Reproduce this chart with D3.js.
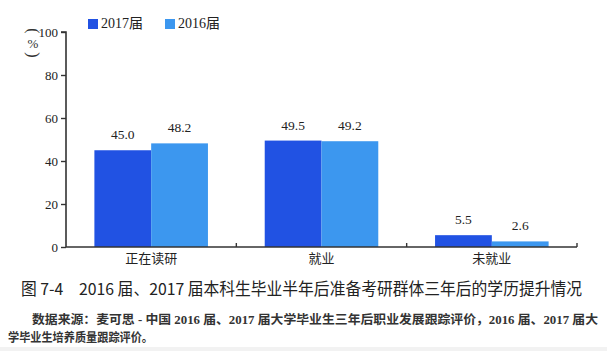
<!DOCTYPE html>
<html lang="zh">
<head>
<meta charset="UTF-8">
<title>图 7-4</title>
<script src="https://d3js.org/d3.v7.min.js"></script>
<style>
  body { margin: 0; background: #fff; }
  svg { display: block; }
</style>
</head>
<body>
<svg width="607" height="351"></svg>
<script>
const categories = ["正在读研", "就业", "未就业"];
const seriesNames = ["2017届", "2016届"];
const values2017 = [45.0, 49.5, 5.5];
const values2016 = [48.2, 49.2, 2.6];
const yTicks = [0, 20, 40, 60, 80, 100];
const colors = ["#2152e3", "#3c97ef"];

const serif = "'Liberation Serif', 'Times New Roman', 'DejaVu Serif', 'Noto Sans CJK SC', serif";
const cjk = "'Noto Sans CJK SC', sans-serif";

const svg = d3.select("svg");
svg.append("rect").attr("width", 607).attr("height", 351).attr("fill", "#fff");

const x = d3.scaleBand().domain(categories).range([66, 577]).paddingInner(0).paddingOuter(0);
const xs = d3.scaleBand().domain(seriesNames).range([0, x.bandwidth()]).paddingInner(0).paddingOuter(0.5);
const y = d3.scaleLinear().domain([0, 100]).range([247, 32]);

const data = categories.map((c, i) => ({
  cat: c,
  vals: [
    { s: seriesNames[0], v: values2017[i] },
    { s: seriesNames[1], v: values2016[i] }
  ]
}));

// bars
const grp = svg.append("g").selectAll("g").data(data).join("g")
  .attr("transform", d => `translate(${x(d.cat)},0)`);
grp.selectAll("rect").data(d => d.vals).join("rect")
  .attr("x", d => xs(d.s))
  .attr("y", d => y(d.v))
  .attr("width", xs.bandwidth())
  .attr("height", d => y(0) - y(d.v))
  .attr("fill", (d, i) => colors[i]);
grp.selectAll("text").data(d => d.vals).join("text")
  .attr("font-family", serif)
  .attr("x", d => xs(d.s) + xs.bandwidth() / 2)
  .attr("y", d => y(d.v) - 11)
  .attr("text-anchor", "middle")
  .attr("font-size", 13.5)
  .attr("fill", "#222")
  .text(d => d.v.toFixed(1));

// y axis
const yAxis = svg.append("g").attr("transform", "translate(66,0)")
  .call(d3.axisLeft(y).tickValues(yTicks).tickSize(5).tickPadding(3));
yAxis.select(".domain").attr("stroke", "#333").attr("stroke-width", 1.6).attr("d", `M-5,${y(100)}H0V${y(0)}`);
yAxis.selectAll(".tick line").attr("stroke", "#333").attr("stroke-width", 1.4);
yAxis.selectAll(".tick text").attr("font-family", serif).attr("font-size", 13).attr("fill", "#222");

// x axis
svg.append("line").attr("x1", 66).attr("x2", 577).attr("y1", y(0)).attr("y2", y(0))
  .attr("stroke", "#333").attr("stroke-width", 1.6);
svg.append("g").selectAll("line").data(x.domain().map(c => x(c) + x.bandwidth()))
  .join("line")
  .attr("x1", d => d).attr("x2", d => d)
  .attr("y1", y(0)).attr("y2", y(0) - 4)
  .attr("stroke", "#333").attr("stroke-width", 1.4);
svg.append("g").selectAll("text").data(categories).join("text")
  .attr("font-family", cjk)
  .attr("x", d => x(d) + x.bandwidth() / 2)
  .attr("y", 263)
  .attr("text-anchor", "middle")
  .attr("font-size", 13)
  .attr("fill", "#222")
  .text(d => d);

// unit label: rotated brackets around %
svg.append("text").attr("font-family", serif).attr("font-size", 16).attr("fill", "#333")
  .attr("text-anchor", "middle").attr("dominant-baseline", "central")
  .attr("transform", "translate(33,31) rotate(90)").text("(");
svg.append("text").attr("font-family", serif).attr("font-size", 13).attr("fill", "#333")
  .attr("text-anchor", "middle").attr("dominant-baseline", "central")
  .attr("x", 33).attr("y", 43).text("%");
svg.append("text").attr("font-family", serif).attr("font-size", 16).attr("fill", "#333")
  .attr("text-anchor", "middle").attr("dominant-baseline", "central")
  .attr("transform", "translate(33,55) rotate(90)").text(")");

// legend
const legend = svg.append("g");
seriesNames.forEach((s, i) => {
  const lx = 88 + i * 77;
  legend.append("rect").attr("x", lx).attr("y", 19).attr("width", 10).attr("height", 10).attr("fill", colors[i]);
  legend.append("text").attr("x", lx + 13).attr("y", 28)
    .attr("font-family", serif)
    .attr("font-size", 14).attr("fill", "#222").text(s);
});

// caption
svg.append("text").attr("font-family", cjk).attr("x", 21).attr("y", 295)
  .attr("font-size", 16.5).attr("fill", "#222")
  .attr("textLength", 561).attr("lengthAdjust", "spacingAndGlyphs")
  .text("图 7-4　2016 届、2017 届本科生毕业半年后准备考研群体三年后的学历提升情况");
svg.append("text").attr("x", 32).attr("y", 324)
  .attr("font-family", serif)
  .attr("font-size", 12.5).attr("font-weight", "bold").attr("fill", "#333")
  .attr("textLength", 566).attr("lengthAdjust", "spacingAndGlyphs")
  .text("数据来源：麦可思 - 中国 2016 届、2017 届大学毕业生三年后职业发展跟踪评价，2016 届、2017 届大");
svg.append("text").attr("x", 8).attr("y", 342)
  .attr("font-family", serif)
  .attr("font-size", 12.5).attr("font-weight", "bold").attr("fill", "#333")
  .attr("textLength", 145).attr("lengthAdjust", "spacingAndGlyphs")
  .text("学毕业生培养质量跟踪评价。");
svg.append("rect").attr("x", 0).attr("y", 347).attr("width", 607).attr("height", 4).attr("fill", "#f2f2f2");
</script>
</body>
</html>
